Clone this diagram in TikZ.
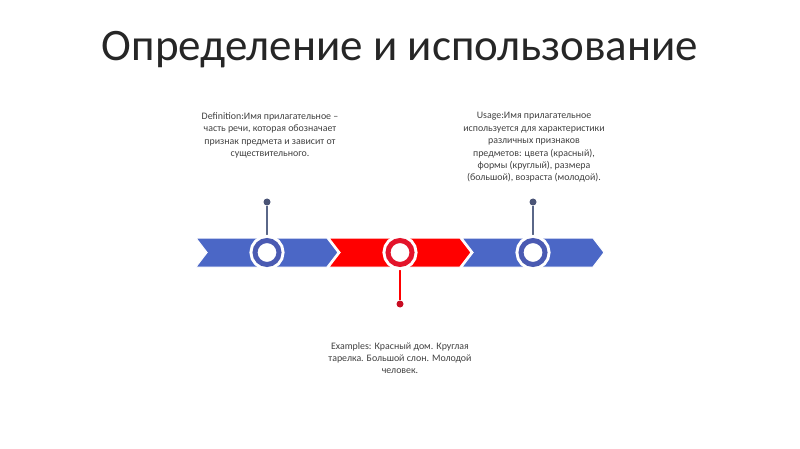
\documentclass[tikz,border=0pt]{standalone}
\usepackage{fontspec}
\setmainfont{Carlito}
\usetikzlibrary{positioning}
\usetikzlibrary{shapes.symbols}
\definecolor{chevblue}{HTML}{4B67C6}
\definecolor{ringblue}{HTML}{4A5AB2}
\definecolor{chevred}{HTML}{FF0000}
\definecolor{ringred}{HTML}{E3142B}
\definecolor{pinblue}{HTML}{5A6788}
\definecolor{dotblue}{HTML}{4A5476}
\definecolor{dotred}{HTML}{C80C22}
\definecolor{txtgray}{HTML}{404040}
\definecolor{titlegray}{HTML}{262626}
\begin{document}
\begin{tikzpicture}[x=1pt,y=-1pt]
			\tikzset{chevron/.style = {shape=signal, signal from=west, signal to=east, signal pointer angle=105,
					minimum width=142pt, minimum height=29pt, inner sep=0pt, draw=white, line width=1pt},
				ring/.style = {shape=circle, fill=white, line width=5pt, minimum size=24pt, inner sep=0pt,
					preaction={draw=white, line width=11pt}},
				pindot/.style = {shape=circle, minimum size=7pt, inner sep=0pt},
				infotext/.style = {align=center, text=txtgray, font=\fontsize{9.9}{12.4}\selectfont}}
			\useasboundingbox (0,0) rectangle (800,449);
			
			\node[anchor=base, text=titlegray, font=\fontsize{45}{48}\selectfont] (TITLE) at (400,61)
			{Определение и использование};
			
			% arrow band
			\node[chevron, fill=chevblue] (CHEVA) at (267,252.5) {};
			\node[chevron, fill=chevred] (CHEVB) at (400,252.5) {};
			\node[chevron, fill=chevblue] (CHEVC) at (533,252.5) {};
			
			% pins
			\node[pindot, fill=dotblue] (DEFDOT) at (267,202) {};
			\node[pindot, fill=dotred] (EXDOT) at (400,304) {};
			\node[pindot, fill=dotblue] (USEDOT) at (533,202) {};
			\draw[pinblue, line width=1.2pt] (DEFDOT) -- (CHEVA.center);
			\draw[chevred, line width=1.2pt] (EXDOT) -- (CHEVB.center);
			\draw[pinblue, line width=1.2pt] (USEDOT) -- (CHEVC.center);
			
			\node[ring, draw=ringblue] (DEFRING) at (CHEVA.center) {};
			\node[ring, draw=ringred] (EXRING) at (CHEVB.center) {};
			\node[ring, draw=ringblue] (USERING) at (CHEVC.center) {};
			
			% texts
			\node[infotext, anchor=north] (DEF) at (270,109)
			{Definition:Имя прилагательное –\\
				часть речи, которая обозначает\\
				признак предмета и зависит от\\
				существительного.};
			\node[infotext, anchor=north] (USE) at (534,109)
			{Usage:Имя прилагательное\\
				используется для характеристики\\
				различных признаков\\
				предметов: цвета (красный),\\
				формы (круглый), размера\\
				(большой), возраста (молодой).};
			\node[infotext, below=31pt of EXDOT] (EX)
			{Examples: Красный дом. Круглая\\
				тарелка. Большой слон. Молодой\\
				человек.};
			
\end{tikzpicture}
\end{document}
